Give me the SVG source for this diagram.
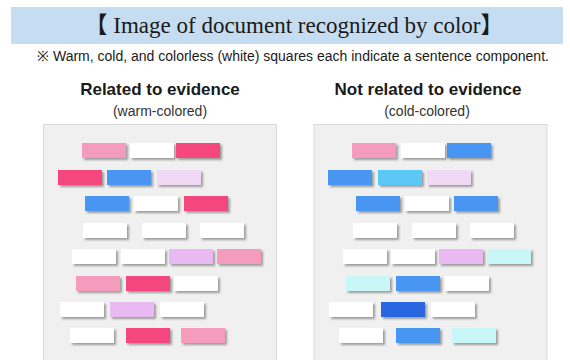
<svg xmlns="http://www.w3.org/2000/svg" width="570" height="360" viewBox="0 0 570 360">
<defs>
<filter id="sh" x="-20%" y="-30%" width="150%" height="180%">
<feDropShadow dx="2" dy="2" stdDeviation="1.2" flood-color="#000" flood-opacity="0.35"/>
</filter>
</defs>
<style>
.title{font-family:"Liberation Serif","Noto Sans CJK JP",serif;font-size:23px;fill:#1a1a1a}
.sub{font-family:"Liberation Sans",Arial,sans-serif;font-size:14px;fill:#1a1a1a}
.head{font-family:"Liberation Sans",Arial,sans-serif;font-size:17px;font-weight:bold;fill:#1a1a1a}
.small{font-family:"Liberation Sans",Arial,sans-serif;font-size:14px;fill:#333}
.panel{fill:#f0f0f0;stroke:#d9d9d9;stroke-width:1}
.b{filter:url(#sh)}
.w{fill:#ffffff}.p{fill:#f59cbd}.h{fill:#f5467f}.bl{fill:#4a95f2}.lv{fill:#f0d9f5}.lp{fill:#e9b9f2}.cy{fill:#c9f6f6}.sk{fill:#5cc8f7}.db{fill:#2c66e0}
</style>
<rect width="570" height="360" fill="#ffffff"/>
<g id="banner">
<rect x="11" y="7" width="552" height="37" fill="#c6dcf0"/>
<text class="title" x="294" y="33" text-anchor="middle">【 Image of document recognized by color】</text>
</g>
<text class="sub" x="293" y="61" text-anchor="middle">※ Warm, cold, and colorless (white) squares each indicate a sentence component.</text>
<g id="left-panel">
<text class="head" x="160" y="95" text-anchor="middle">Related to evidence</text>
<text class="small" x="160" y="116" text-anchor="middle">(warm-colored)</text>
<rect class="panel" x="43.5" y="124.5" width="233" height="245"/>
<g class="b">
<rect class="p" x="82" y="143" width="44" height="15"/><rect class="w" x="130" y="143" width="44" height="15"/><rect class="h" x="176" y="143" width="44" height="15"/>
<rect class="h" x="58" y="170" width="44" height="15"/><rect class="bl" x="107" y="170" width="44" height="15"/><rect class="lv" x="157" y="170" width="44" height="15"/>
<rect class="bl" x="85" y="196" width="44" height="15"/><rect class="w" x="134" y="196" width="44" height="15"/><rect class="h" x="184" y="196" width="44" height="15"/>
<rect class="w" x="83" y="223" width="44" height="15"/><rect class="w" x="142" y="223" width="44" height="15"/><rect class="w" x="200" y="223" width="44" height="15"/>
<rect class="w" x="72" y="249" width="44" height="15"/><rect class="w" x="121" y="249" width="44" height="15"/><rect class="lp" x="169" y="249" width="44" height="15"/><rect class="p" x="217" y="249" width="44" height="15"/>
<rect class="p" x="76" y="276" width="44" height="15"/><rect class="h" x="126" y="276" width="44" height="15"/><rect class="w" x="174" y="276" width="44" height="15"/>
<rect class="w" x="60" y="302" width="44" height="15"/><rect class="lp" x="110" y="302" width="44" height="15"/><rect class="w" x="160" y="302" width="44" height="15"/>
<rect class="w" x="70" y="328" width="44" height="15"/><rect class="h" x="126" y="328" width="44" height="15"/><rect class="p" x="181" y="328" width="44" height="15"/>
</g>
</g>
<g id="right-panel">
<text class="head" x="428" y="95" text-anchor="middle">Not related to evidence</text>
<text class="small" x="427" y="116" text-anchor="middle">(cold-colored)</text>
<rect class="panel" x="314" y="124.5" width="233" height="245"/>
<g class="b">
<rect class="p" x="352" y="143" width="44" height="15"/><rect class="w" x="401" y="143" width="44" height="15"/><rect class="bl" x="447" y="143" width="44" height="15"/>
<rect class="bl" x="328" y="170" width="44" height="15"/><rect class="sk" x="378" y="170" width="44" height="15"/><rect class="lv" x="427" y="170" width="44" height="15"/>
<rect class="bl" x="356" y="196" width="44" height="15"/><rect class="w" x="405" y="196" width="44" height="15"/><rect class="bl" x="454" y="196" width="44" height="15"/>
<rect class="w" x="353" y="223" width="44" height="15"/><rect class="w" x="412" y="223" width="44" height="15"/><rect class="w" x="470" y="223" width="44" height="15"/>
<rect class="w" x="343" y="249" width="44" height="15"/><rect class="w" x="391" y="249" width="44" height="15"/><rect class="lp" x="439" y="249" width="44" height="15"/><rect class="cy" x="487" y="249" width="44" height="15"/>
<rect class="cy" x="346" y="276" width="44" height="15"/><rect class="bl" x="396" y="276" width="44" height="15"/><rect class="w" x="445" y="276" width="44" height="15"/>
<rect class="w" x="329" y="302" width="44" height="15"/><rect class="db" x="381" y="302" width="44" height="15"/><rect class="w" x="431" y="302" width="44" height="15"/>
<rect class="w" x="339" y="328" width="44" height="15"/><rect class="bl" x="396" y="328" width="44" height="15"/><rect class="cy" x="452" y="328" width="44" height="15"/>
</g>
</g>
</svg>
